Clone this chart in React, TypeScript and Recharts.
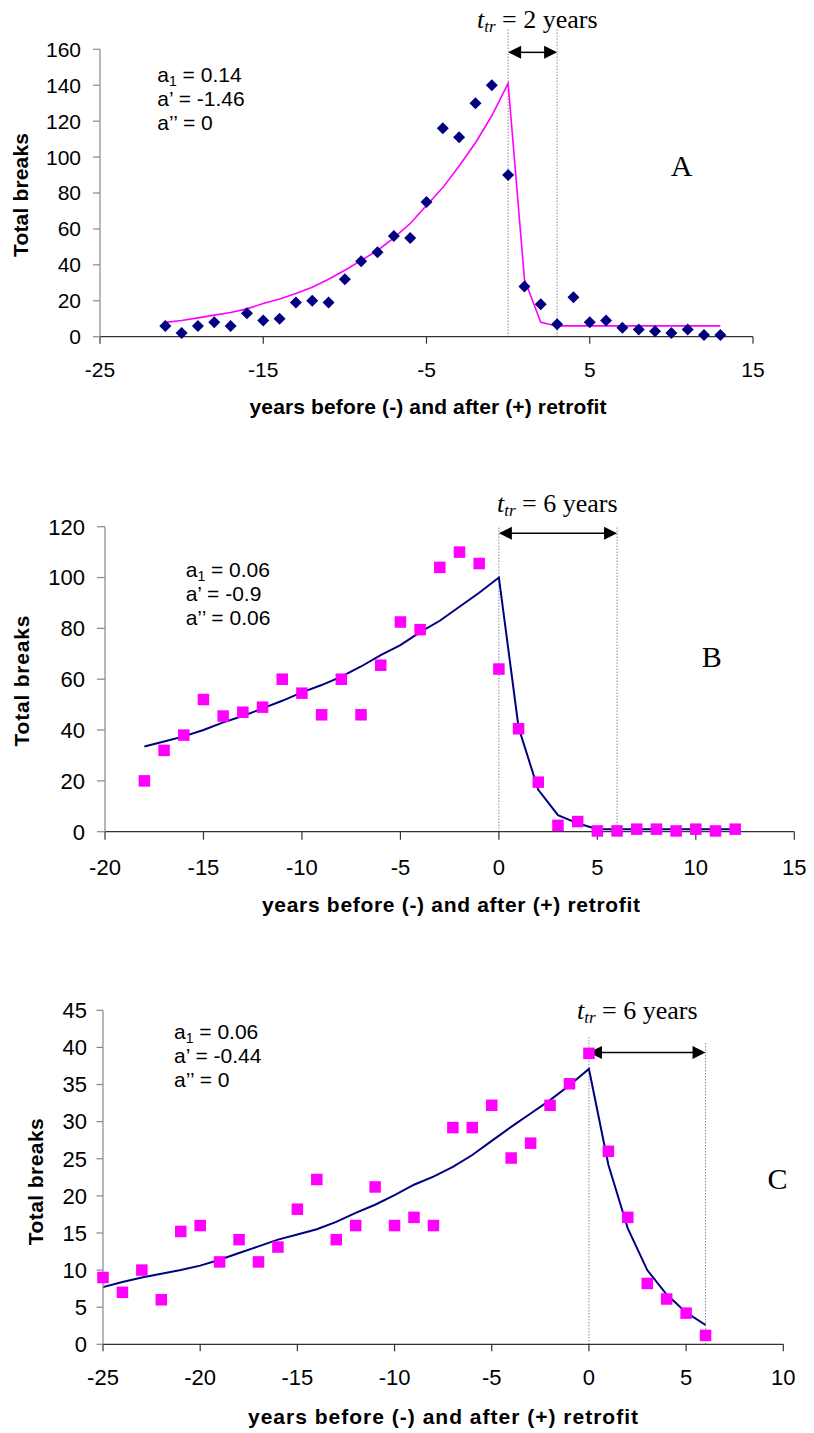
import React from "react";
import {
  ComposedChart,
  XAxis,
  YAxis,
  Line,
  Scatter,
  ReferenceLine,
} from "recharts";

// ---------- Panel A ----------
const yearsA = [-21, -20, -19, -18, -17, -16, -15, -14, -13, -12, -11, -10, -9, -8, -7, -6, -5, -4, -3, -2, -1, 0, 1, 2, 3, 4, 5, 6, 7, 8, 9, 10, 11, 12, 13];
const obsA = [6, 2, 6, 8, 6, 13, 9, 10, 19, 20, 19, 32, 42, 47, 56, 55, 75, 116, 111, 130, 140, 90, 28, 18, 7, 22, 8, 9, 5, 4, 3, 2, 4, 1, 1];
const fitA = [8, 9, 10.5, 12, 13.5, 15.5, 18.5, 21, 24, 27.5, 32, 37, 42.5, 48, 55, 63, 73, 83, 95, 108, 123, 141, 32, 8, 6, 6, 6, 6, 6, 6, 6, 6, 6, 6, 6];
const xTicksA = [-25, -15, -5, 5, 15];
const yTicksA = [0, 20, 40, 60, 80, 100, 120, 140, 160];
const trLinesA = [0, 3];
const trTopA = 171;
const arrowYA = 158.3;

// ---------- Panel B ----------
const yearsB = [-18, -17, -16, -15, -14, -13, -12, -11, -10, -9, -8, -7, -6, -5, -4, -3, -2, -1, 0, 1, 2, 3, 4, 5, 6, 7, 8, 9, 10, 11, 12];
const obsB = [20, 32, 38, 52, 45.5, 47, 49, 60, 54.5, 46, 60, 46, 65.5, 82.5, 79.5, 104, 110, 105.5, 64, 40.5, 19.5, 2.5, 4, 0.3, 0.3, 1, 1, 0.3, 1, 0.3, 1];
const fitB = [33.5, 35.5, 37.5, 40, 43, 45.5, 48.5, 51.5, 54.8, 57.7, 61, 65, 69.5, 73.4, 78.5, 83, 88.5, 94, 100, 41, 16.5, 6.5, 3.3, 1, 1, 1, 1, 1, 1, 1, 1];
const xTicksB = [-20, -15, -10, -5, 0, 5, 10, 15];
const yTicksB = [0, 20, 40, 60, 80, 100, 120];
const trLinesB = [0, 6];
const trTopB = 120;
const arrowYB = 117.4;

// ---------- Panel C ----------
const yearsC = [-25, -24, -23, -22, -21, -20, -19, -18, -17, -16, -15, -14, -13, -12, -11, -10, -9, -8, -7, -6, -5, -4, -3, -2, -1, 0, 1, 2, 3, 4, 5, 6];
const obsC = [9, 7, 10, 6, 15.2, 16, 11.1, 14.1, 11.1, 13.1, 18.2, 22.2, 14.1, 16, 21.2, 16, 17.1, 16, 29.2, 29.2, 32.2, 25.1, 27.1, 32.2, 35.1, 39.2, 26, 17.1, 8.2, 6.1, 4.2, 1.2];
const fitC = [7.7, 8.4, 9, 9.5, 10, 10.6, 11.4, 12.3, 13.2, 14.1, 14.8, 15.5, 16.5, 17.7, 18.8, 20.1, 21.5, 22.6, 23.9, 25.5, 27.4, 29.3, 31.1, 32.9, 34.9, 37.1, 24.2, 15.6, 10, 6.7, 4.3, 2.6];
const xTicksC = [-25, -20, -15, -10, -5, 0, 5, 10];
const yTicksC = [0, 5, 10, 15, 20, 25, 30, 35, 40, 45];
const trLinesC = [0, 6];
const trTopsC = [41.5, 40.6];
const arrowYC = 39.3;

const SANS = "'Liberation Sans', Arial, sans-serif";
const SERIF = "'Liberation Serif', 'Times New Roman', serif";
const NAVY = "#000080";
const MAGENTA = "#FF00FF";

const buildTable = (xs: number[], obs: number[], fit: number[]) =>
  xs.map((x, i) => ({ x, obs: obs[i], fit: fit[i] }));

const Diamond = (props: any) => {
  const { cx, cy } = props;
  if (cx == null || cy == null) return <g />;
  const r = 6;
  return (
    <polygon
      points={`${cx},${cy - r} ${cx + r},${cy} ${cx},${cy + r} ${cx - r},${cy}`}
      fill={NAVY}
    />
  );
};

const Square = (props: any) => {
  const { cx, cy } = props;
  if (cx == null || cy == null) return <g />;
  const s = 11.5;
  return <rect x={cx - s / 2} y={cy - s / 2} width={s} height={s} fill={MAGENTA} />;
};

const ArrowShape = (props: any) => {
  const { x1, y1, x2, y2 } = props;
  const h = 13;
  const w = 6.5;
  return (
    <g>
      <line x1={x1 + h - 1} y1={y1} x2={x2 - h + 1} y2={y2} stroke="#000" strokeWidth={1.5} />
      <polygon points={`${x1},${y1} ${x1 + h},${y1 - w} ${x1 + h},${y1 + w}`} fill="#000" />
      <polygon points={`${x2},${y2} ${x2 - h},${y2 - w} ${x2 - h},${y2 + w}`} fill="#000" />
    </g>
  );
};

type PanelProps = {
  top: number;
  height: number;
  margin: { top: number; right: number; bottom: number; left: number };
  yWidth: number;
  data: { x: number; obs: number; fit: number }[];
  xDomain: [number, number];
  xTicks: number[];
  yDomain: [number, number];
  yTicks: number[];
  fontSize: number;
  xTickSize: number;
  xTickMargin: number;
  yTickSize: number;
  yTickMargin: number;
  marker: "diamond" | "square";
  lineColor: string;
  lineWidth: number;
  trLines: number[];
  trTops: number[];
  arrowY: number;
};

const Panel = (p: PanelProps) => (
  <div style={{ position: "absolute", left: 0, top: p.top, width: 814, height: p.height }}>
    <ComposedChart width={814} height={p.height} data={p.data} margin={p.margin}>
      <XAxis
        type="number"
        dataKey="x"
        domain={p.xDomain}
        ticks={p.xTicks}
        interval={0}
        height={40}
        tickSize={p.xTickSize}
        tickMargin={p.xTickMargin}
        axisLine={{ stroke: "#333", strokeWidth: 1.2 }}
        tickLine={{ stroke: "#333", strokeWidth: 1.2 }}
        tick={{ fill: "#000", fontSize: p.fontSize, fontFamily: SANS }}
      />
      <YAxis
        type="number"
        domain={p.yDomain}
        ticks={p.yTicks}
        interval={0}
        width={p.yWidth}
        tickSize={p.yTickSize}
        tickMargin={p.yTickMargin}
        axisLine={{ stroke: "#888", strokeWidth: 1.2 }}
        tickLine={{ stroke: "#888", strokeWidth: 1.2 }}
        tick={{ fill: "#000", fontSize: p.fontSize, fontFamily: SANS }}
      />
      {p.trLines.map((v, i) => (
        <ReferenceLine
          key={"tr" + i}
          segment={[
            { x: v, y: 0 },
            { x: v, y: p.trTops[i] },
          ]}
          ifOverflow="visible"
          stroke="#555"
          strokeWidth={1}
          strokeDasharray="1 2"
        />
      ))}
      <ReferenceLine
        segment={[
          { x: p.trLines[0], y: p.arrowY },
          { x: p.trLines[1], y: p.arrowY },
        ]}
        ifOverflow="visible"
        shape={ArrowShape}
      />
      <Line
        type="linear"
        dataKey="fit"
        stroke={p.lineColor}
        strokeWidth={p.lineWidth}
        dot={false}
        activeDot={false}
        isAnimationActive={false}
      />
      <Scatter
        dataKey="obs"
        shape={p.marker === "diamond" ? Diamond : Square}
        isAnimationActive={false}
      />
    </ComposedChart>
  </div>
);

const TrTitle = ({ x, y, text }: { x: number; y: number; text: string }) => (
  <text x={x} y={y} fontFamily={SERIF} fontSize={26} fill="#000">
    <tspan fontStyle="italic">t</tspan>
    <tspan fontStyle="italic" fontSize={17} dy={4}>tr</tspan>
    <tspan dy={-4}>{text}</tspan>
  </text>
);

const Params = ({ x, y, a1, ap, app }: { x: number; y: number; a1: string; ap: string; app: string }) => (
  <g fontFamily={SANS} fontSize={21} fill="#000">
    <text x={x} y={y}>
      a<tspan fontSize={14} dy={4}>1</tspan>
      <tspan dy={-4}>{" = " + a1}</tspan>
    </text>
    <text x={x} y={y + 24}>{"a\u2019 = " + ap}</text>
    <text x={x} y={y + 48}>{"a\u2019\u2019 = " + app}</text>
  </g>
);

const YTitle = ({ x, y, len }: { x: number; y: number; len: number }) => (
  <text
    x={x}
    y={y}
    transform={`rotate(-90, ${x}, ${y})`}
    textAnchor="middle"
    fontFamily={SANS}
    fontWeight="bold"
    fontSize={21}
    textLength={len}
    lengthAdjust="spacing"
    fill="#000"
  >
    Total breaks
  </text>
);

const XTitle = ({ x, y, len }: { x: number; y: number; len: number }) => (
  <text
    x={x}
    y={y}
    textAnchor="middle"
    fontFamily={SANS}
    fontWeight="bold"
    fontSize={21}
    textLength={len}
    lengthAdjust="spacing"
    fill="#000"
  >
    years before (-) and after (+) retrofit
  </text>
);

const PanelLetter = ({ x, y, t }: { x: number; y: number; t: string }) => (
  <text x={x} y={y} textAnchor="middle" fontFamily={SERIF} fontSize={30} fill="#000">
    {t}
  </text>
);

export default function App() {
  const dataA = buildTable(yearsA, obsA, fitA);
  const dataB = buildTable(yearsB, obsB, fitB);
  const dataC = buildTable(yearsC, obsC, fitC);
  return (
    <div style={{ position: "absolute", left: 0, top: 0, width: 814, height: 1433, background: "#fff" }}>
      <Panel
        top={0}
        height={420}
        margin={{ top: 49.3, right: 61, bottom: 43.3, left: 0 }}
        yWidth={100}
        data={dataA}
        xDomain={[-25, 15]}
        xTicks={xTicksA}
        yDomain={[0, 160]}
        yTicks={yTicksA}
        fontSize={21}
        xTickSize={7}
        xTickMargin={18}
        yTickSize={7}
        yTickMargin={12}
        marker="diamond"
        lineColor={MAGENTA}
        lineWidth={1.6}
        trLines={trLinesA}
        trTops={[trTopA, trTopA]}
        arrowY={arrowYA}
      />
      <Panel
        top={480}
        height={420}
        margin={{ top: 46.7, right: 19.7, bottom: 28.3, left: 0 }}
        yWidth={105}
        data={dataB}
        xDomain={[-20, 15]}
        xTicks={xTicksB}
        yDomain={[0, 120]}
        yTicks={yTicksB}
        fontSize={22}
        xTickSize={8}
        xTickMargin={20}
        yTickSize={8}
        yTickMargin={12}
        marker="square"
        lineColor={NAVY}
        lineWidth={2}
        trLines={trLinesB}
        trTops={[trTopB, trTopB]}
        arrowY={arrowYB}
      />
      <Panel
        top={930}
        height={503}
        margin={{ top: 80.3, right: 30.7, bottom: 48.7, left: 0 }}
        yWidth={103}
        data={dataC}
        xDomain={[-25, 10]}
        xTicks={xTicksC}
        yDomain={[0, 45]}
        yTicks={yTicksC}
        fontSize={22}
        xTickSize={7}
        xTickMargin={18}
        yTickSize={6.5}
        yTickMargin={9.5}
        marker="square"
        lineColor={NAVY}
        lineWidth={2}
        trLines={trLinesC}
        trTops={trTopsC}
        arrowY={arrowYC}
      />
      <svg
        width={814}
        height={1433}
        style={{ position: "absolute", left: 0, top: 0, pointerEvents: "none" }}
      >
        <TrTitle x={477} y={28} text=" = 2 years" />
        <TrTitle x={497} y={512} text=" = 6 years" />
        <TrTitle x={577} y={1019} text=" = 6 years" />
        <Params x={157.3} y={82} a1="0.14" ap="-1.46" app="0" />
        <Params x={185.7} y={577} a1="0.06" ap="-0.9" app="0.06" />
        <Params x={174} y={1039.3} a1="0.06" ap="-0.44" app="0" />
        <PanelLetter x={681.7} y={175.5} t="A" />
        <PanelLetter x={711.7} y={667} t="B" />
        <PanelLetter x={777.5} y={1189} t="C" />
        <YTitle x={28.3} y={195} len={124} />
        <YTitle x={29.3} y={681} len={131} />
        <YTitle x={43.3} y={1181.7} len={127} />
        <XTitle x={428} y={414.3} len={357} />
        <XTitle x={451} y={912} len={378} />
        <XTitle x={443} y={1424.3} len={390} />
      </svg>
    </div>
  );
}
